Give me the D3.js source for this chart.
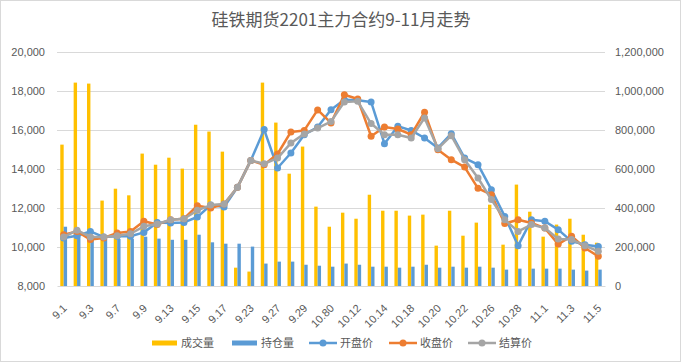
<!DOCTYPE html>
<meta charset="utf-8">
<title>硅铁期货2201主力合约9-11月走势</title>
<style>
body { margin: 0; background: #fff; }
text { font-family: "Liberation Sans", Arial, sans-serif; fill: #595959; }
.cn { font-family: "Noto Sans CJK SC", sans-serif; }
</style>
<body>
<svg width="682" height="363"></svg>
<script src="https://d3js.org/d3.v7.min.js"></script>
<script>
// trading days (label as shown on the chart)
var dates = ["9.1","9.2","9.3","9.6","9.7","9.8","9.9","9.10","9.13","9.14","9.15","9.16","9.17",
  "9.22","9.23","9.24","9.27","9.28","9.29","9.30","10.80","10.11","10.12","10.13","10.14","10.15",
  "10.18","10.19","10.20","10.21","10.22","10.25","10.26","10.27","10.28","10.29",
  "11.1","11.2","11.3","11.4","11.5"];

var volume = [725000,1043000,1038000,438000,499000,465000,679000,622000,658000,602000,827000,792000,689000,
  94000,74000,1043000,838000,576000,715000,407000,304000,376000,345000,468000,386000,386000,
  361000,366000,207000,386000,258000,325000,417000,212000,520000,381000,
  253000,315000,345000,263000,222000];

var openInt = [304000,263000,258000,241000,241000,241000,253000,243000,237000,237000,263000,224000,217000,
  217000,202000,115000,125000,125000,109000,104000,99000,115000,109000,99000,99000,94000,
  99000,109000,94000,99000,94000,99000,94000,84000,89000,89000,
  89000,89000,84000,79000,84000];

var openPx = [10460,10580,10800,10510,10550,10550,10750,11260,11230,11260,11540,12150,12050,
  13060,14440,16020,14050,14820,15760,16150,17040,17550,17520,17440,15300,16190,
  15980,15590,15080,15810,14560,14220,12940,11570,10070,11400,
  11320,10890,10290,10120,10030];

var closePx = [10630,10800,10380,10460,10720,10800,11320,11150,11400,11450,12120,12000,12200,
  13060,14440,14220,14770,15900,15980,17030,16360,17810,17590,15680,16150,16050,
  15760,16910,14990,14480,14100,13010,12680,11200,11400,11230,
  10970,10150,10550,9950,9520];

var settlePx = [10510,10860,10510,10510,10580,10680,11060,11180,11400,11450,11880,12150,12200,
  13060,14440,14270,14560,15330,15800,16100,16430,17440,17470,16330,15760,15760,
  15590,16620,15040,15710,14480,13540,12430,11400,10800,11150,
  10970,10410,10380,10070,9780];

var leftTicks = [8000,10000,12000,14000,16000,18000,20000];
var rightTicks = [0,200000,400000,600000,800000,1000000,1200000];

var svg = d3.select("svg"),
    margin = {top: 52, right: 77, bottom: 77, left: 57},
    width = 682 - margin.left - margin.right,
    height = 363 - margin.top - margin.bottom;

// chart border
svg.append("rect")
    .attr("x", 0.5).attr("y", 0.5)
    .attr("width", 680).attr("height", 361)
    .attr("fill", "#fff").attr("stroke", "#d9d9d9");

svg.append("text")
    .attr("class", "cn")
    .attr("x", 341).attr("y", 26)
    .attr("text-anchor", "middle")
    .attr("font-size", 17)
    .text("硅铁期货2201主力合约9-11月走势");

var g = svg.append("g").attr("transform", "translate(" + margin.left + "," + margin.top + ")");

var x = d3.scaleBand().domain(dates).range([0, width]);
var yL = d3.scaleLinear().domain([8000, 20000]).range([height, 0]);
var yR = d3.scaleLinear().domain([0, 1200000]).range([height, 0]);
var fmt = d3.format(",");

// gridlines
g.append("g")
  .selectAll("line")
  .data(leftTicks.slice(1))
  .enter().append("line")
    .attr("x1", 0).attr("x2", width)
    .attr("y1", function(d) { return Math.round(yL(d)) + 0.5; })
    .attr("y2", function(d) { return Math.round(yL(d)) + 0.5; })
    .attr("stroke", "#d9d9d9");

// left axis
var axL = g.append("g")
    .call(d3.axisLeft(yL).tickValues(leftTicks).tickFormat(fmt).tickSize(0).tickPadding(12));
axL.select(".domain").remove();
axL.selectAll("text").attr("font-size", 11).attr("fill", "#595959");

// right axis
var axR = g.append("g")
    .attr("transform", "translate(" + width + ",0)")
    .call(d3.axisRight(yR).tickValues(rightTicks).tickFormat(fmt).tickSize(0).tickPadding(10));
axR.select(".domain").remove();
axR.selectAll("text").attr("font-size", 11).attr("fill", "#595959");

// bars
var bw = 3.4;
g.append("g").selectAll("rect")
    .data(volume)
  .enter().append("rect")
    .attr("x", function(d, i) { return x(dates[i]) + x.bandwidth() / 2 - bw; })
    .attr("y", function(d) { return yR(d); })
    .attr("width", bw)
    .attr("height", function(d) { return height - yR(d); })
    .attr("fill", "#ffc000");

g.append("g").selectAll("rect")
    .data(openInt)
  .enter().append("rect")
    .attr("x", function(d, i) { return x(dates[i]) + x.bandwidth() / 2; })
    .attr("y", function(d) { return yR(d); })
    .attr("width", bw)
    .attr("height", function(d) { return height - yR(d); })
    .attr("fill", "#5b9bd5");

// x axis
var axB = g.append("g")
    .attr("transform", "translate(0," + height + ")")
    .call(d3.axisBottom(x).tickSize(0).tickFormat(function(d, i) { return i % 2 == 0 ? d : ""; }));
axB.select(".domain").attr("stroke", "#d9d9d9");
axB.selectAll("text")
    .attr("font-size", 11)
    .attr("fill", "#595959")
    .attr("text-anchor", "end")
    .attr("dy", "0.35em")
    .attr("transform", "translate(-1,18) rotate(-45)");

// lines
var lines = [
  {name: "开盘价", values: openPx, color: "#5b9bd5"},
  {name: "收盘价", values: closePx, color: "#ed7d31"},
  {name: "结算价", values: settlePx, color: "#a5a5a5"}
];

var line = d3.line()
    .x(function(d, i) { return x(dates[i]) + x.bandwidth() / 2; })
    .y(function(d) { return yL(d); });

lines.forEach(function(s) {
  var sg = g.append("g");
  sg.append("path")
      .datum(s.values)
      .attr("d", line)
      .attr("fill", "none")
      .attr("stroke", s.color)
      .attr("stroke-width", 2.5)
      .attr("stroke-linejoin", "round");
  sg.selectAll("circle")
      .data(s.values)
    .enter().append("circle")
      .attr("cx", function(d, i) { return x(dates[i]) + x.bandwidth() / 2; })
      .attr("cy", function(d) { return yL(d); })
      .attr("r", 3.5)
      .attr("fill", s.color);
});

// legend
var legend = svg.append("g").attr("transform", "translate(0,343)");
var items = [
  {name: "成交量", color: "#ffc000", type: "bar", x: 152},
  {name: "持仓量", color: "#5b9bd5", type: "bar", x: 232},
  {name: "开盘价", color: "#5b9bd5", type: "line", x: 309},
  {name: "收盘价", color: "#ed7d31", type: "line", x: 389},
  {name: "结算价", color: "#a5a5a5", type: "line", x: 468}
];
items.forEach(function(d) {
  if (d.type == "bar") {
    legend.append("rect")
        .attr("x", d.x).attr("y", -2.5)
        .attr("width", 25).attr("height", 5)
        .attr("fill", d.color);
  } else {
    legend.append("line")
        .attr("x1", d.x).attr("x2", d.x + 28)
        .attr("stroke", d.color).attr("stroke-width", 2.5);
    legend.append("circle")
        .attr("cx", d.x + 14).attr("r", 3.5).attr("fill", d.color);
  }
  legend.append("text")
      .attr("class", "cn")
      .attr("x", d.x + (d.type == "bar" ? 29 : 31))
      .attr("dy", "0.35em")
      .attr("font-size", 11)
      .text(d.name);
});
</script>
</body>
